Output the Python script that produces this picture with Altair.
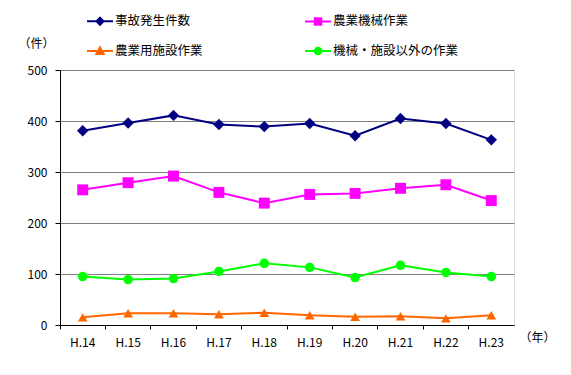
import altair as alt
import pandas as pd

years = ["H.14", "H.15", "H.16", "H.17", "H.18", "H.19", "H.20", "H.21", "H.22", "H.23"]
series = ["事故発生件数", "農業機械作業", "農業用施設作業", "機械・施設以外の作業"]
total = [381, 396, 411, 393, 389, 395, 371, 405, 395, 363]
machine = [265, 279, 292, 260, 239, 256, 258, 268, 275, 244]
facility = [15, 23, 23, 21, 24, 19, 16, 17, 13, 19]
other = [95, 89, 91, 105, 121, 113, 93, 117, 103, 95]
colors = ["#000080", "#FF00FF", "#FF6600", "#00FF00"]
marker_shapes = ["diamond", "square", "triangle-up", "circle"]
marker_sizes = [130, 120, 95, 90]
legend_paths = [
    "M-1,0H1M0,-0.27L0.27,0L0,0.27L-0.27,0Z",
    "M-1,0H1M-0.25,-0.25H0.25V0.25H-0.25Z",
    "M-1,0H1M0,-0.28L0.28,0.24H-0.28Z",
    "M-1,0H1M0.25,0A0.25,0.25,0,1,1,-0.25,0A0.25,0.25,0,1,1,0.25,0Z",
]

rows = []
for s, vals in zip(series, [total, machine, facility, other]):
    for y, v in zip(years, vals):
        rows.append({"year": y, "series": s, "value": v})
df = pd.DataFrame(rows)

FONT = "Noto Sans CJK JP"

x_enc = alt.X(
    "year:N", sort=years,
    scale=alt.Scale(type="band", paddingInner=0, paddingOuter=0),
    axis=alt.Axis(
        title="（年）", titleFont=FONT, titleFontSize=12, titleFontWeight="normal",
        titleX=477, titleY=12, titleBaseline="middle", titleAngle=0,
        labelAngle=0, labelFont=FONT, labelFontSize=12, labelColor="#000",
        labelPadding=8, tickColor="#000", tickSize=4, bandPosition=0,
        domainColor="#000", grid=False,
    ),
)
y_enc = alt.Y(
    "value:Q",
    scale=alt.Scale(domain=[0, 500], nice=False),
    axis=alt.Axis(
        title="（件）", titleFont=FONT, titleFontSize=12, titleFontWeight="normal",
        titleAngle=0, titleX=-24, titleY=-27, titleBaseline="middle", titleAlign="center",
        values=[0, 100, 200, 300, 400, 500], labelFont=FONT, labelFontSize=12,
        labelColor="#000", labelPadding=8, tickColor="#000", tickSize=5,
        domainColor="#000", gridColor="#808080", gridWidth=1,
    ),
)

base = alt.Chart(df)

layers = []
for s, c in zip(series, colors):
    layers.append(
        base.transform_filter(alt.datum.series == s)
        .mark_line(strokeWidth=2, color=c)
        .encode(x=x_enc, y=y_enc)
    )
for s, c, sh, sz in zip(series, colors, marker_shapes, marker_sizes):
    layers.append(
        base.transform_filter(alt.datum.series == s)
        .mark_point(filled=True, shape=sh, size=sz, color=c, opacity=1)
        .encode(x=x_enc, y=y_enc)
    )

legend_layer = base.transform_filter("false").mark_point(filled=True, opacity=1).encode(
    x=x_enc, y=y_enc,
    shape=alt.Shape(
        "series:N",
        scale=alt.Scale(domain=series, range=legend_paths),
        legend=alt.Legend(
            title=None, orient="none", direction="horizontal",
            legendX=26, legendY=-63, columns=2,
            columnPadding=98, rowPadding=8, symbolSize=676, symbolStrokeWidth=2,
            labelFont=FONT, labelFontSize=12.5, labelColor="#000", labelOffset=1,
            symbolOpacity=1,
        ),
    ),
    fill=alt.Fill("series:N", scale=alt.Scale(domain=series, range=colors)),
    stroke=alt.Stroke("series:N", scale=alt.Scale(domain=series, range=colors)),
)
layers.append(legend_layer)

chart = alt.layer(*layers).properties(
    width=454, height=255,
    autosize=alt.AutoSizeParams(type="none"),
    padding={"left": 60, "top": 70, "right": 57, "bottom": 50},
).configure_view(stroke="#808080", strokeWidth=1).configure(background="white")

chart.save("out.html", embed_options={"renderer": "svg", "actions": False})
